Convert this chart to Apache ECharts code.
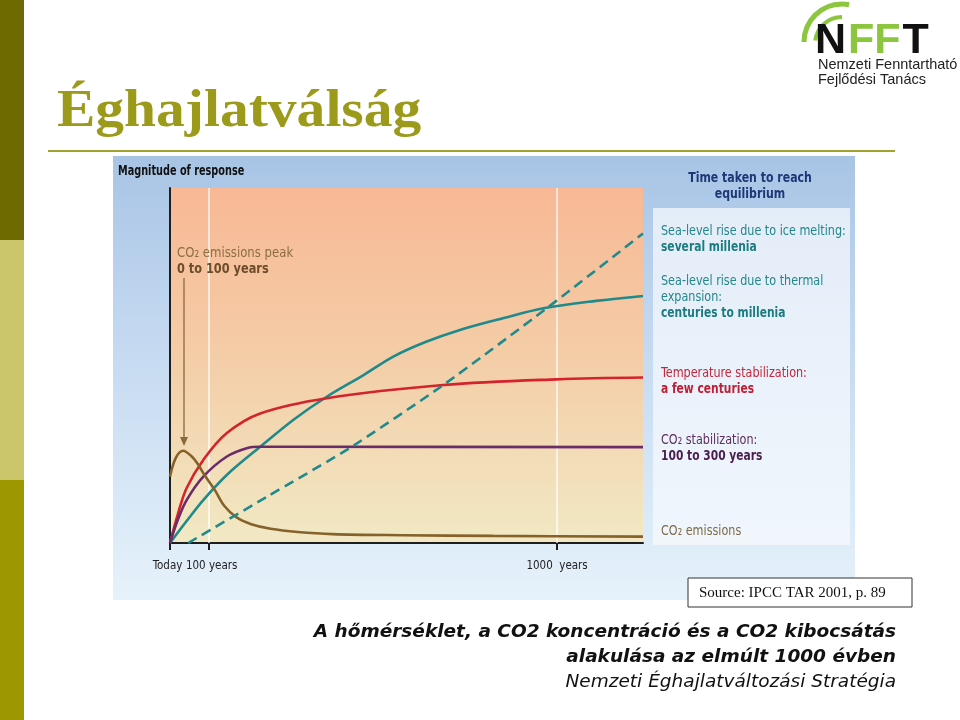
<!DOCTYPE html>
<html><head><meta charset="utf-8">
<script src="https://cdn.jsdelivr.net/npm/echarts@6/dist/echarts.min.js"></script>
<style>html,body{margin:0;padding:0;background:#fff}#c{width:960px;height:720px}</style>
</head><body><div id="c"></div>
<script>
// ---- data ----
const tickValues = [0, 100, 1000];
const tickLabels = ['Today', '100 years', '1000  years'];
const guideYears = [100, 1000];

const emisYears = [0, 15, 34, 55, 71, 90, 116, 140, 172, 210, 260, 330, 420, 600, 835, 1222];
const emisVals  = [18.7, 24, 26, 24.5, 22.4, 19, 14.9, 10.5, 7.2, 5.3, 4.0, 3.1, 2.5, 2.2, 2.0, 1.8];

const tempYears = [0, 20, 43, 86, 146, 233, 405, 706, 999, 1222];
const tempVals  = [0, 8, 15.5, 23.4, 30.9, 36.5, 40.8, 44.5, 46.1, 46.6];

const co2Years = [0, 20, 43, 86, 146, 198, 233, 300, 1222];
const co2Vals  = [0, 6.5, 12.1, 18.7, 24.3, 26.7, 27.1, 27.1, 27.0];

const thermYears = [0, 43, 86, 150, 233, 320, 405, 500, 577, 660, 749, 860, 965, 1100, 1222];
const thermVals  = [0, 6.2, 12.1, 19.5, 27.1, 34.8, 41.2, 47.3, 52.5, 56.6, 60, 63.3, 66.1, 68.2, 69.6];

const iceYears = [47, 250, 465, 706, 973, 1222];
const iceVals  = [0, 13.0, 26.8, 44.5, 66.1, 87.2];

const xMax = 1222, yMax = 100;

// ---- styling ----
const NARROW = "'Liberation Sans Narrow','Arial Narrow','DejaVu Sans Condensed',sans-serif";
const zip = (xs, ys) => xs.map((x, i) => [x, ys[i]]);
const lg = (x0,y0,x1,y1,stops) => new echarts.graphic.LinearGradient(x0,y0,x1,y1,stops.map(s=>({offset:s[0],color:s[1]})));

function txt(text, x, y, size, color, opts) {
  opts = opts || {};
  const sx = opts.sx != null ? opts.sx : (opts.weight === 'bold' ? 0.85 : 0.89);
  return {
    type: 'text', z: 50, silent: true, x: x, y: y, scaleX: opts.family ? (opts.sx || 1) : sx,
    style: Object.assign({
      text: text, x: 0, y: 0, fill: color,
      fontSize: size, fontFamily: opts.family || NARROW, fontWeight: opts.weight || 'normal',
      fontStyle: opts.style || 'normal',
      align: opts.align || 'left', textAlign: opts.align || 'left',
      verticalAlign: 'middle', textVerticalAlign: 'middle'
    }, opts.extra || {})
  };
}

const chart = echarts.init(document.getElementById('c'), null, {renderer: 'canvas'});

const lineSeries = (name, xs, ys, color, extra) => Object.assign({
  name: name, type: 'line', data: zip(xs, ys), showSymbol: false, symbol: 'none',
  smooth: 0.35, silent: true, z: 5,
  lineStyle: {color: color, width: 2.6}
}, extra || {});

const SANS = "'Liberation Sans',Arial,sans-serif";
const graphics = [
  // slide left stripe
  {type:'rect', shape:{x:0,y:0,width:24,height:240}, style:{fill:'#6e6a00'}, z:-20},
  {type:'rect', shape:{x:0,y:240,width:24,height:240}, style:{fill:'#cbc56b'}, z:-20},
  {type:'rect', shape:{x:0,y:480,width:24,height:240}, style:{fill:'#9e9800'}, z:-20},
  // title + rule
  txt('Éghajlatválság', 57, 112, 53, '#9c9a1a', {family:"'Liberation Serif','DejaVu Serif',serif", weight:'bold', sx:1.085}),
  {type:'rect', shape:{x:48,y:150,width:847,height:2}, style:{fill:'#a4a22c'}, z:-20},
  // logo
  {type:'arc', shape:{cx:842,cy:42,r:38,startAngle:Math.PI*1.0,endAngle:Math.PI*1.56}, style:{stroke:'#8cc63f',lineWidth:5,fill:null}, z:-10},
  {type:'arc', shape:{cx:842,cy:44,r:27,startAngle:Math.PI*1.04,endAngle:Math.PI*1.5}, style:{stroke:'#8cc63f',lineWidth:4,fill:null}, z:-10},
  {type:'text', z:50, silent:true, style:{text:'{k|N}{g|FF}{k|T}', x:815, y:41, align:'left', textAlign:'left', verticalAlign:'middle', textVerticalAlign:'middle',
    rich:{k:{fontSize:43,fontWeight:'bold',fontFamily:SANS,fill:'#111',color:'#111'},
          g:{fontSize:43,fontWeight:'bold',fontFamily:SANS,fill:'#8cc63f',color:'#8cc63f',padding:[0,2,0,2]}}}},
  txt('Nemzeti Fenntartható', 818, 65, 14.5, '#222', {family:SANS}),
  txt('Fejlődési Tanács', 818, 80, 14.5, '#222', {family:SANS}),
  // chart panel background
  {type:'rect', shape:{x:113,y:156,width:742,height:444}, style:{fill: lg(0,0,0,1,[[0,'#a8c4e5'],[0.35,'#c0d6ef'],[1,'#e6f2fb']])}, z:-15},
  {type:'rect', shape:{x:653,y:208,width:197,height:337}, style:{fill: 'rgba(246,249,254,0.72)'}, z:-14},
  // chart annotations
  txt('Magnitude of response', 118, 171, 13.5, '#111', {weight:'bold', sx:0.8}),
  txt('Time taken to reach', 750, 178, 14.5, '#1d3877', {weight:'bold', align:'center', sx:0.84}),
  txt('equilibrium', 750, 194, 14.5, '#1d3877', {weight:'bold', align:'center', sx:0.84}),
  txt('Sea-level rise due to ice melting:', 661, 231, 14, '#23868a'),
  txt('several millenia', 661, 247, 14, '#1b7c80', {weight:'bold'}),
  txt('Sea-level rise due to thermal', 661, 281, 14, '#23868a'),
  txt('expansion:', 661, 297, 14, '#23868a'),
  txt('centuries to millenia', 661, 313, 14, '#1b7c80', {weight:'bold'}),
  txt('Temperature stabilization:', 661, 373, 14, '#c0283c'),
  txt('a few centuries', 661, 389, 14, '#c01e34', {weight:'bold'}),
  txt('CO₂ stabilization:', 661, 440, 14, '#5e2e5e'),
  txt('100 to 300 years', 661, 456, 14, '#4c1e4e', {weight:'bold'}),
  txt('CO₂ emissions', 661, 531, 14, '#7c6a48'),
  txt('CO₂ emissions peak', 177, 253, 14, '#8c6e44', {sx:0.93}),
  txt('0 to 100 years', 177, 269, 14, '#6c4c2a', {weight:'bold', sx:0.9}),
  {type:'line', shape:{x1:184,y1:278,x2:184,y2:441}, style:{stroke:'#8a6a3a',lineWidth:1.3}, z:40},
  {type:'polygon', shape:{points:[[180,437],[188,437],[184,446]]}, style:{fill:'#8a6a3a'}, z:40},
  // source box
  {type:'rect', shape:{x:688,y:578,width:224,height:29}, style:{fill:'#fff',stroke:'#333',lineWidth:1}, z:30},
  txt('Source: IPCC TAR 2001, p. 89', 699, 593, 15, '#111', {family:"'Liberation Serif','DejaVu Serif',serif"}),
  // caption
  txt('A hőmérséklet, a CO2 koncentráció és a CO2 kibocsátás', 896, 632, 18.5, '#111', {family:"'DejaVu Sans',Verdana,sans-serif", weight:'bold', style:'italic', align:'right'}),
  txt('alakulása az elmúlt 1000 évben', 896, 657, 18.5, '#111', {family:"'DejaVu Sans',Verdana,sans-serif", weight:'bold', style:'italic', align:'right'}),
  txt('Nemzeti Éghajlatváltozási Stratégia', 896, 682, 18.5, '#111', {family:"'DejaVu Sans',Verdana,sans-serif", style:'italic', align:'right'})
];

// rich label keys: t = "Today" (nudged left), h = "100 years" (nudged right), k = "1000 years"
const richKey = ['t', 'h', 'k'];
const labelFor = v => {
  const i = tickValues.indexOf(v);
  return i < 0 ? '' : '{' + richKey[i] + '|' + tickLabels[i] + '}';
};
const richBase = {fontFamily: NARROW, fontSize: 11.5, color: '#222'};
const axisCommon = {
  type: 'value', min: 0, max: xMax, position: 'bottom', splitLine: {show: false}
};
const tickStyle = {show: true, inside: false, length: 7, lineStyle: {color: '#1e1e1e', width: 2}};
const labelStyle = {show: true, margin: 17, fontFamily: NARROW, fontSize: 11.5, color: '#222',
  showMinLabel: true, showMaxLabel: true, hideOverlap: false, formatter: labelFor,
  rich: {
    t: Object.assign({padding: [0, 5, 0, 0]}, richBase),
    h: Object.assign({padding: [0, 0, 0, 6]}, richBase),
    k: Object.assign({}, richBase)
  }};

chart.setOption({
  animation: false,
  backgroundColor: '#ffffff',
  grid: {
    left: 170, top: 188, width: 473, height: 355, containLabel: false,
    show: true, borderWidth: 0,
    backgroundColor: lg(0,0,0,1,[[0,'#f8b895'],[0.45,'#f4cca6'],[1,'#f1e9c4']])
  },
  xAxis: [
    Object.assign({}, axisCommon, {
      axisLine: {show: true, onZero: false, lineStyle: {color: '#1e1e1e', width: 2}},
      axisTick: Object.assign({customValues: tickValues.slice(1)}, tickStyle),
      axisLabel: Object.assign({customValues: tickValues.slice(1)}, labelStyle)
    }),
    Object.assign({}, axisCommon, {
      axisLine: {show: false},
      axisTick: Object.assign({customValues: tickValues.slice(0, 1)}, tickStyle),
      axisLabel: Object.assign({customValues: tickValues.slice(0, 1)}, labelStyle)
    })
  ],
  yAxis: {
    type: 'value', min: 0, max: yMax,
    axisLine: {show: true, onZero: false, lineStyle: {color: '#1e1e1e', width: 2}},
    axisTick: {show: false}, axisLabel: {show: false}, splitLine: {show: false}
  },
  series: [
    lineSeries('Sea-level rise due to ice melting', iceYears, iceVals, '#1f8a8c',
      {smooth: 0.2, lineStyle: {color: '#1f8a8c', width: 2.6, type: [10, 6]},
       markLine: {silent: true, symbol: ['none','none'], label: {show: false},
         lineStyle: {color: 'rgba(255,255,255,0.85)', width: 1.5, type: 'solid'},
         data: guideYears.map(v => ({xAxis: v}))}, z: 6}),
    lineSeries('Sea-level rise due to thermal expansion', thermYears, thermVals, '#1f8a8c'),
    lineSeries('Temperature stabilization', tempYears, tempVals, '#d3232c'),
    lineSeries('CO2 stabilization', co2Years, co2Vals, '#6b2c6a'),
    lineSeries('CO2 emissions', emisYears, emisVals, '#86622a')
  ],
  graphic: {elements: graphics}
});
</script></body></html>
